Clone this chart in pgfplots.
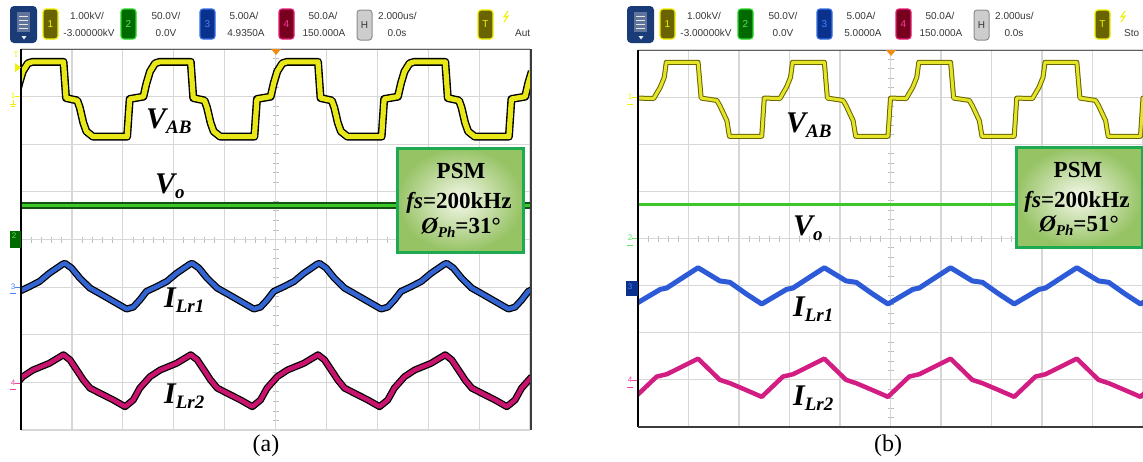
\documentclass[border=0pt]{standalone}
\usepackage{pgfplots}
\pgfplotsset{compat=1.18}
\usepackage{fontspec}
\setmainfont{Liberation Serif}
\newfontfamily\sansf{Liberation Sans}

\definecolor{gridc}{RGB}{215,215,215}
\definecolor{tickc}{RGB}{190,190,190}
\definecolor{tbtext}{RGB}{55,55,55}
\definecolor{yelA}{RGB}{232,232,25}
\definecolor{yelB}{RGB}{228,228,40}
\definecolor{olive}{RGB}{105,100,0}
\definecolor{yelbord}{RGB}{240,240,0}
\definecolor{grnfill}{RGB}{0,105,0}
\definecolor{grnbord}{RGB}{40,215,40}
\definecolor{grntxt}{RGB}{90,230,90}
\definecolor{blufill}{RGB}{10,50,140}
\definecolor{blubord}{RGB}{50,110,230}
\definecolor{blutxt}{RGB}{70,130,255}
\definecolor{redfill}{RGB}{120,0,30}
\definecolor{redbord}{RGB}{230,30,120}
\definecolor{redtxt}{RGB}{245,60,160}
\definecolor{navy}{RGB}{25,60,120}
\definecolor{listc}{RGB}{95,115,155}
\definecolor{hfill}{RGB}{205,205,205}
\definecolor{hbord}{RGB}{140,140,140}
\definecolor{frameg}{RGB}{95,95,95}
\definecolor{framed}{RGB}{60,60,60}
\definecolor{traceG}{RGB}{60,200,40}
\definecolor{traceGd}{RGB}{20,80,20}
\definecolor{traceB}{RGB}{50,100,210}
\definecolor{traceBb}{RGB}{45,90,215}
\definecolor{traceP}{RGB}{200,20,110}
\definecolor{tracePb}{RGB}{210,30,130}
\definecolor{boxbord}{RGB}{30,170,80}
\definecolor{boxin}{RGB}{246,248,236}
\definecolor{boxout}{RGB}{150,195,100}
\definecolor{trig}{RGB}{240,140,20}

\pgfplotsset{osc/.style={scale only axis, anchor=south west,
  xmin=0, xmax=10, ymin=0, ymax=8,
  axis line style={draw=none}, tick style={draw=none},
  xtick={0,...,10}, ytick={0,...,8}, xticklabels={}, yticklabels={},
  major tick length=0pt, grid=major,
  grid style={color=gridc, line width=1.2pt}, clip=true}}

\tikzset{
 ua/.style={black, line width=8pt, line join=round},
 ca/.style={line width=5.2pt, line join=round},
 ub/.style={line width=5pt, line join=round},
 cb/.style={line width=3pt, line join=round}}

\newcommand\biglab[2]{{\fontsize{30}{30}\selectfont\bfseries\itshape #1}\raisebox{-5pt}{\fontsize{19}{19}\selectfont\bfseries\itshape #2}}

\newcommand\tbar[4]{%
\begin{scope}[x=1pt,y=-1pt,xshift=#1pt]
 \fill[navy, rounded corners=4pt] (10,6) rectangle (37,43);
 \fill[listc] (17,12) rectangle (30,32);
 \foreach \yy in {16,20,24,28} \draw[white!80!gray, line width=0.8pt] (19,\yy) -- (28,\yy);
 \fill[white!85!gray] (21.5,36) -- (26.5,36) -- (24,39.5) -- cycle;
 \filldraw[fill=olive, draw=yelbord, line width=1.2pt, rounded corners=3pt] (43,9) rectangle (58,39);
 \node[yelbord, font=\sansf\fontsize{10}{10}\selectfont] at (50.5,24) {1};
 \filldraw[fill=grnfill, draw=grnbord, line width=1.2pt, rounded corners=3pt] (121,9) rectangle (136,39);
 \node[grntxt, font=\sansf\fontsize{10}{10}\selectfont] at (128.5,24) {2};
 \filldraw[fill=blufill, draw=blubord, line width=1.2pt, rounded corners=3pt] (200,9) rectangle (215,39);
 \node[blutxt, font=\sansf\fontsize{10}{10}\selectfont] at (207.5,24) {3};
 \filldraw[fill=redfill, draw=redbord, line width=1.2pt, rounded corners=3pt] (279,9) rectangle (294,39);
 \node[redtxt, font=\sansf\fontsize{10}{10}\selectfont] at (286.5,24) {4};
 \filldraw[fill=hfill, draw=hbord, line width=1pt, rounded corners=3pt] (357,10) rectangle (372,40);
 \node[tbtext, font=\sansf\fontsize{10}{10}\selectfont] at (364.5,25) {H};
 \filldraw[fill=olive, draw=yelbord, line width=1.2pt, rounded corners=3pt] (478,10) rectangle (493,39);
 \node[yelbord, font=\sansf\fontsize{10}{10}\selectfont] at (485.5,24.5) {T};
 \draw[yelbord, line width=1pt] (508,11) -- (504,17) -- (508,16) -- (504,22);
 \begin{scope}[every node/.style={tbtext, inner sep=0pt, font=\sansf\fontsize{10}{10}\selectfont}]
 \node at (87,16) {1.00kV/};
 \node at (89,33) {-3.00000kV};
 \node at (166,16) {50.0V/};
 \node at (166,33) {0.0V};
 \node at (244,16) {5.00A/};
 \node at (246,33) {#2};
 \node at (323,16) {50.0A/};
 \node at (324,33) {150.000A};
 \node[anchor=west] at (378,16) {2.000us/};
 \node at (397,33) {0.0s};
 \node[anchor=west] at (#4,33) {#3};
 \end{scope}
\end{scope}}

\begin{document}
\begin{tikzpicture}
\useasboundingbox (0pt,0pt) rectangle (1143pt,-461pt);
\clip (0pt,0pt) rectangle (1143pt,-461pt);
\fill[white] (0pt,0pt) rectangle (1143pt,-461pt);

% center ticks (behind traces)
\begin{scope}[x=1pt,y=-1pt]
 \foreach \i in {0,...,40} \draw[tickc, line width=0.9pt] (272.5,{49+\i*9.525}) -- (278.5,{49+\i*9.525});
 \foreach \i in {0,...,50} \draw[tickc, line width=0.9pt] ({21+\i*10.18},236.5) -- ({21+\i*10.18},242.5);
 \foreach \i in {0,...,40} \draw[tickc, line width=0.9pt] (887.5,{50+\i*9.425}) -- (893.5,{50+\i*9.425});
 \foreach \i in {0,...,50} \draw[tickc, line width=0.9pt] ({638+\i*10.1},235.5) -- ({638+\i*10.1},241.5);
\end{scope}

% ---------------- panel (a) ----------------
\begin{axis}[osc, at={(21pt,-430pt)}, width=509pt, height=381pt]
% V_AB
\addplot[ua] coordinates {(-0.415,6.16)(-0.365,6.95)(-0.095,7.00)(-0.035,7.28)(0.035,7.53)(0.135,7.70)(0.225,7.73)
(0.835,7.73)(0.885,6.97)(1.105,6.92)(1.155,6.77)(1.225,6.45)(1.285,6.27)(1.415,6.16)(2.085,6.16)(2.135,6.95)(2.405,7.00)(2.465,7.28)(2.535,7.53)(2.635,7.70)(2.725,7.73)
(3.335,7.73)(3.385,6.97)(3.605,6.92)(3.655,6.77)(3.725,6.45)(3.785,6.27)(3.915,6.16)(4.585,6.16)(4.635,6.95)(4.905,7.00)(4.965,7.28)(5.035,7.53)(5.135,7.70)(5.225,7.73)
(5.835,7.73)(5.885,6.97)(6.105,6.92)(6.155,6.77)(6.225,6.45)(6.285,6.27)(6.415,6.16)(7.085,6.16)(7.135,6.95)(7.405,7.00)(7.465,7.28)(7.535,7.53)(7.635,7.70)(7.725,7.73)
(8.335,7.73)(8.385,6.97)(8.605,6.92)(8.655,6.77)(8.725,6.45)(8.785,6.27)(8.915,6.16)(9.585,6.16)(9.635,6.95)(9.905,7.00)(9.965,7.28)(10.035,7.53)};
\addplot[ca, color=yelA] coordinates {(-0.415,6.16)(-0.365,6.95)(-0.095,7.00)(-0.035,7.28)(0.035,7.53)(0.135,7.70)(0.225,7.73)
(0.835,7.73)(0.885,6.97)(1.105,6.92)(1.155,6.77)(1.225,6.45)(1.285,6.27)(1.415,6.16)(2.085,6.16)(2.135,6.95)(2.405,7.00)(2.465,7.28)(2.535,7.53)(2.635,7.70)(2.725,7.73)
(3.335,7.73)(3.385,6.97)(3.605,6.92)(3.655,6.77)(3.725,6.45)(3.785,6.27)(3.915,6.16)(4.585,6.16)(4.635,6.95)(4.905,7.00)(4.965,7.28)(5.035,7.53)(5.135,7.70)(5.225,7.73)
(5.835,7.73)(5.885,6.97)(6.105,6.92)(6.155,6.77)(6.225,6.45)(6.285,6.27)(6.415,6.16)(7.085,6.16)(7.135,6.95)(7.405,7.00)(7.465,7.28)(7.535,7.53)(7.635,7.70)(7.725,7.73)
(8.335,7.73)(8.385,6.97)(8.605,6.92)(8.655,6.77)(8.725,6.45)(8.785,6.27)(8.915,6.16)(9.585,6.16)(9.635,6.95)(9.905,7.00)(9.965,7.28)(10.035,7.53)};
% V_o
\addplot[color=traceGd, line width=6.5pt] coordinates {(0,4.71)(10,4.71)};
\addplot[color=traceG, line width=3pt] coordinates {(0,4.71)(10,4.71)};
% I_Lr1
\addplot[ua, line width=7pt] coordinates {(-0.165,2.73)(-0.035,2.91)(0.165,3.01)(0.365,3.12)(0.555,3.29)(0.815,3.48)
(0.865,3.50)(0.995,3.40)(1.155,3.19)(1.355,2.98)(1.555,2.86)(1.815,2.70)(2.075,2.54)(2.205,2.58)(2.335,2.73)(2.465,2.91)(2.665,3.01)(2.865,3.12)(3.055,3.29)(3.315,3.48)
(3.365,3.50)(3.495,3.40)(3.655,3.19)(3.855,2.98)(4.055,2.86)(4.315,2.70)(4.575,2.54)(4.705,2.58)(4.835,2.73)(4.965,2.91)(5.165,3.01)(5.365,3.12)(5.555,3.29)(5.815,3.48)
(5.865,3.50)(5.995,3.40)(6.155,3.19)(6.355,2.98)(6.555,2.86)(6.815,2.70)(7.075,2.54)(7.205,2.58)(7.335,2.73)(7.465,2.91)(7.665,3.01)(7.865,3.12)(8.055,3.29)(8.315,3.48)
(8.365,3.50)(8.495,3.40)(8.655,3.19)(8.855,2.98)(9.055,2.86)(9.315,2.70)(9.575,2.54)(9.705,2.58)(9.835,2.73)(9.965,2.91)(10.165,3.01)};
\addplot[ca, line width=4.5pt, color=traceB] coordinates {(-0.165,2.73)(-0.035,2.91)(0.165,3.01)(0.365,3.12)(0.555,3.29)(0.815,3.48)
(0.865,3.50)(0.995,3.40)(1.155,3.19)(1.355,2.98)(1.555,2.86)(1.815,2.70)(2.075,2.54)(2.205,2.58)(2.335,2.73)(2.465,2.91)(2.665,3.01)(2.865,3.12)(3.055,3.29)(3.315,3.48)
(3.365,3.50)(3.495,3.40)(3.655,3.19)(3.855,2.98)(4.055,2.86)(4.315,2.70)(4.575,2.54)(4.705,2.58)(4.835,2.73)(4.965,2.91)(5.165,3.01)(5.365,3.12)(5.555,3.29)(5.815,3.48)
(5.865,3.50)(5.995,3.40)(6.155,3.19)(6.355,2.98)(6.555,2.86)(6.815,2.70)(7.075,2.54)(7.205,2.58)(7.335,2.73)(7.465,2.91)(7.665,3.01)(7.865,3.12)(8.055,3.29)(8.315,3.48)
(8.365,3.50)(8.495,3.40)(8.655,3.19)(8.855,2.98)(9.055,2.86)(9.315,2.70)(9.575,2.54)(9.705,2.58)(9.835,2.73)(9.965,2.91)(10.165,3.01)};
% I_Lr2
\addplot[ua, line width=7pt] coordinates {(-0.165,0.88)(0.035,1.12)(0.235,1.26)(0.555,1.40)
(0.835,1.58)(0.965,1.47)(1.095,1.26)(1.225,1.05)(1.355,0.88)(1.555,0.77)(1.815,0.63)(2.045,0.49)(2.205,0.63)(2.335,0.88)(2.535,1.12)(2.735,1.26)(3.055,1.40)
(3.335,1.58)(3.465,1.47)(3.595,1.26)(3.725,1.05)(3.855,0.88)(4.055,0.77)(4.315,0.63)(4.545,0.49)(4.705,0.63)(4.835,0.88)(5.035,1.12)(5.235,1.26)(5.555,1.40)
(5.835,1.58)(5.965,1.47)(6.095,1.26)(6.225,1.05)(6.355,0.88)(6.555,0.77)(6.815,0.63)(7.045,0.49)(7.205,0.63)(7.335,0.88)(7.535,1.12)(7.735,1.26)(8.055,1.40)
(8.335,1.58)(8.465,1.47)(8.595,1.26)(8.725,1.05)(8.855,0.88)(9.055,0.77)(9.315,0.63)(9.545,0.49)(9.705,0.63)(9.835,0.88)(10.035,1.12)};
\addplot[ca, line width=4.5pt, color=traceP] coordinates {(-0.165,0.88)(0.035,1.12)(0.235,1.26)(0.555,1.40)
(0.835,1.58)(0.965,1.47)(1.095,1.26)(1.225,1.05)(1.355,0.88)(1.555,0.77)(1.815,0.63)(2.045,0.49)(2.205,0.63)(2.335,0.88)(2.535,1.12)(2.735,1.26)(3.055,1.40)
(3.335,1.58)(3.465,1.47)(3.595,1.26)(3.725,1.05)(3.855,0.88)(4.055,0.77)(4.315,0.63)(4.545,0.49)(4.705,0.63)(4.835,0.88)(5.035,1.12)(5.235,1.26)(5.555,1.40)
(5.835,1.58)(5.965,1.47)(6.095,1.26)(6.225,1.05)(6.355,0.88)(6.555,0.77)(6.815,0.63)(7.045,0.49)(7.205,0.63)(7.335,0.88)(7.535,1.12)(7.735,1.26)(8.055,1.40)
(8.335,1.58)(8.465,1.47)(8.595,1.26)(8.725,1.05)(8.855,0.88)(9.055,0.77)(9.315,0.63)(9.545,0.49)(9.705,0.63)(9.835,0.88)(10.035,1.12)};
\end{axis}

% ---------------- panel (b) ----------------
\begin{axis}[osc, at={(638pt,-427pt)}, width=505pt, height=377pt]
\addplot[ub, color=olive] coordinates {(0,6.98)(0.31,6.97)(0.44,7.21)(0.52,7.42)(0.56,7.74)
(1.19,7.74)(1.25,6.98)(1.56,6.93)(1.62,6.82)(1.76,6.50)(1.81,6.17)(2.45,6.17)(2.50,6.98)(2.81,6.97)(2.94,7.21)(3.02,7.42)(3.06,7.74)
(3.69,7.74)(3.75,6.98)(4.06,6.93)(4.12,6.82)(4.26,6.50)(4.31,6.17)(4.95,6.17)(5.00,6.98)(5.31,6.97)(5.44,7.21)(5.52,7.42)(5.56,7.74)
(6.19,7.74)(6.25,6.98)(6.56,6.93)(6.62,6.82)(6.76,6.50)(6.81,6.17)(7.45,6.17)(7.50,6.98)(7.81,6.97)(7.94,7.21)(8.02,7.42)(8.06,7.74)
(8.69,7.74)(8.75,6.98)(9.06,6.93)(9.12,6.82)(9.26,6.50)(9.31,6.17)(9.95,6.17)(10.00,6.98)(10.1,6.97)};
\addplot[cb, color=yelB] coordinates {(0,6.98)(0.31,6.97)(0.44,7.21)(0.52,7.42)(0.56,7.74)
(1.19,7.74)(1.25,6.98)(1.56,6.93)(1.62,6.82)(1.76,6.50)(1.81,6.17)(2.45,6.17)(2.50,6.98)(2.81,6.97)(2.94,7.21)(3.02,7.42)(3.06,7.74)
(3.69,7.74)(3.75,6.98)(4.06,6.93)(4.12,6.82)(4.26,6.50)(4.31,6.17)(4.95,6.17)(5.00,6.98)(5.31,6.97)(5.44,7.21)(5.52,7.42)(5.56,7.74)
(6.19,7.74)(6.25,6.98)(6.56,6.93)(6.62,6.82)(6.76,6.50)(6.81,6.17)(7.45,6.17)(7.50,6.98)(7.81,6.97)(7.94,7.21)(8.02,7.42)(8.06,7.74)
(8.69,7.74)(8.75,6.98)(9.06,6.93)(9.12,6.82)(9.26,6.50)(9.31,6.17)(9.95,6.17)(10.00,6.98)(10.1,6.97)};
\addplot[color=traceG, line width=3.5pt] coordinates {(0,4.72)(10,4.72)};
\addplot[ub, line width=5pt, color=traceBb] coordinates {(-0.35,2.82)(-0.05,2.61)(0.44,2.92)(0.57,2.95)(0.90,3.18)
(1.19,3.38)(1.62,3.10)(1.82,3.07)(2.15,2.82)(2.45,2.61)(2.94,2.92)(3.07,2.95)(3.40,3.18)
(3.69,3.38)(4.12,3.10)(4.32,3.07)(4.65,2.82)(4.95,2.61)(5.44,2.92)(5.57,2.95)(5.90,3.18)
(6.19,3.38)(6.62,3.10)(6.82,3.07)(7.15,2.82)(7.45,2.61)(7.94,2.92)(8.07,2.95)(8.40,3.18)
(8.69,3.38)(9.12,3.10)(9.32,3.07)(9.65,2.82)(9.95,2.61)(10.44,2.92)};
\addplot[ub, line width=4.5pt, color=tracePb] coordinates {(-0.35,0.78)(-0.05,0.64)(0.37,1.07)(0.57,1.12)
(1.19,1.45)(1.62,1.00)(1.82,0.93)(2.15,0.78)(2.45,0.64)(2.87,1.07)(3.07,1.12)
(3.69,1.45)(4.12,1.00)(4.32,0.93)(4.65,0.78)(4.95,0.64)(5.37,1.07)(5.57,1.12)
(6.19,1.45)(6.62,1.00)(6.82,0.93)(7.15,0.78)(7.45,0.64)(7.87,1.07)(8.07,1.12)
(8.69,1.45)(9.12,1.00)(9.32,0.93)(9.65,0.78)(9.95,0.64)(10.37,1.07)};
\end{axis}

% ---------------- decorations ----------------
\begin{scope}[x=1pt,y=-1pt]
 % frames
 \draw[frameg, line width=1.5pt] (21,49.5) -- (531,49.5);
 \draw[black, line width=1.5pt] (21,49) -- (21,430);
 \draw[framed, line width=1.2pt] (531,49) -- (531,430);
 \draw[frameg, line width=1.5pt] (638,50.5) -- (1143,50.5);
 \draw[black, line width=1.5pt] (638,50) -- (638,427);
 \draw[framed, line width=1.2pt] (638,427) -- (1143,427);
 % trigger markers
 \fill[trig] (271,49) -- (281,49) -- (276,55) -- cycle;
 \fill[trig] (886,50) -- (896,50) -- (891,56) -- cycle;
 % channel markers (a)
 \node[yelbord, inner sep=0pt, font=\sansf\fontsize{8}{8}\selectfont] at (16,55) {T};
 \fill[yelbord] (15,63) -- (21,67.5) -- (15,72) -- cycle;
 \node[yelbord, inner sep=0pt, font=\sansf\fontsize{8}{8}\selectfont] at (13,96) {1};
 \draw[yelbord, line width=0.8pt] (15,96) -- (20,96) (13,100) -- (13,104) (10,104) -- (16,104) (11,106) -- (15,106);
 \fill[grnfill] (10,231) rectangle (21,248);
 \node[grntxt, inner sep=0pt, font=\sansf\fontsize{8}{8}\selectfont] at (14,236) {2};
 \node[blutxt, inner sep=0pt, font=\sansf\fontsize{8}{8}\selectfont] at (13,287) {3};
 \draw[blutxt, line width=0.8pt] (15,287) -- (20,287) (10,293) -- (16,293);
 \node[redtxt, inner sep=0pt, font=\sansf\fontsize{8}{8}\selectfont] at (13,383) {4};
 \draw[redtxt, line width=0.8pt] (15,383) -- (20,383) (10,389) -- (16,389);
 % channel markers (b)
 \node[yelbord, inner sep=0pt, font=\sansf\fontsize{8}{8}\selectfont] at (630,97) {1};
 \draw[yelbord, line width=0.8pt] (632,97) -- (637,97) (627,104) -- (633,104);
 \node[grntxt, inner sep=0pt, font=\sansf\fontsize{8}{8}\selectfont] at (630,238) {2};
 \draw[grntxt, line width=0.8pt] (632,238) -- (637,238) (627,245) -- (633,245);
 \fill[blufill] (626,281) rectangle (638,296);
 \node[blutxt, inner sep=0pt, font=\sansf\fontsize{8}{8}\selectfont] at (630,287) {3};
 \node[redtxt, inner sep=0pt, font=\sansf\fontsize{8}{8}\selectfont] at (630,380) {4};
 \draw[redtxt, line width=0.8pt] (632,380) -- (637,380) (627,387) -- (633,387);

 % waveform labels
 \begin{scope}[every node/.style={inner sep=0pt, anchor=base west}]
 \node at (146,128) {\biglab{V}{AB}};
 \node at (155,193) {\biglab{V}{o}};
 \node at (164,307) {\biglab{I}{Lr1}};
 \node at (164,403) {\biglab{I}{Lr2}};
 \node at (786,132) {\biglab{V}{AB}};
 \node at (793,235) {\biglab{V}{o}};
 \node at (793,316) {\biglab{I}{Lr1}};
 \node at (793,405) {\biglab{I}{Lr2}};
 \end{scope}

 % PSM boxes
 \shade[inner color=boxin, outer color=boxout] (397,148) rectangle (523,252);
 \draw[boxbord, line width=3pt] (397,148) rectangle (523,252);
 \shade[inner color=boxin, outer color=boxout] (1016,147) rectangle (1142,247);
 \draw[boxbord, line width=3pt] (1016,147) rectangle (1142,247);
 \begin{scope}[every node/.style={inner sep=0pt, anchor=base, font=\fontsize{23}{23}\selectfont\bfseries}]
 \node at (461,178) {PSM};
 \node at (459,208) {{\itshape fs}=200kHz};
 \node at (461,233) {{\itshape Ø}\raisebox{-4pt}{\fontsize{15}{15}\selectfont\itshape Ph}=31°};
 \node at (1078,177) {PSM};
 \node at (1077,207) {{\itshape fs}=200kHz};
 \node at (1079,231) {{\itshape Ø}\raisebox{-4pt}{\fontsize{15}{15}\selectfont\itshape Ph}=51°};
 \end{scope}

 % captions
 \node[inner sep=0pt, font=\fontsize{24}{24}\selectfont] at (266,446) {(a)};
 \node[inner sep=0pt, font=\fontsize{24}{24}\selectfont] at (888,446) {(b)};
\end{scope}

\tbar{0}{4.9350A}{Aut}{515}
\tbar{617}{5.0000A}{Sto}{507}
\end{tikzpicture}
\end{document}
